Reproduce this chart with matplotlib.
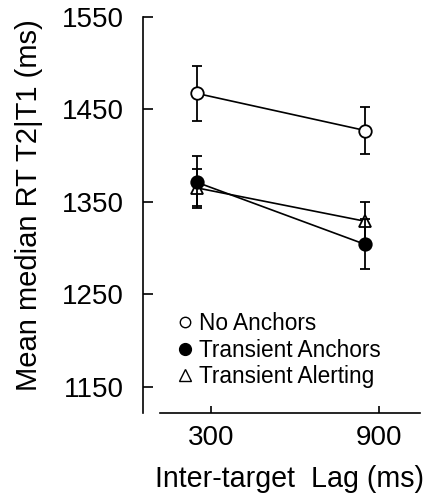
""" Mean median RT T2|T1 por lag e condição """

import numpy as np
import matplotlib.pyplot as plt
import matplotlib.transforms as mtransforms
from matplotlib.lines import Line2D

plt.rcParams['font.family'] = ['Liberation Sans', 'DejaVu Sans']

# Dados
lags = [300, 900]
no_anchors = [1467, 1427]
no_anchors_err = [30, 25]
transient_anchors = [1371, 1304]
transient_anchors_err = [28, 27]
transient_alerting = [1365, 1329]
transient_alerting_err = [20, 21]
yticks = [1150, 1250, 1350, 1450, 1550]

fig = plt.figure(figsize=(4.27, 4.94), dpi=100)
ax = fig.add_axes([0.335, 0.164, 0.649, 0.808])

# pontos ficam um pouco à esquerda dos ticks no original
trans = mtransforms.offset_copy(ax.transData, fig=fig, x=-14, y=0, units='dots')

estilo = dict(color='black', lw=1.2, capsize=3.8, elinewidth=1.3, capthick=1.3,
              markersize=9, markeredgewidth=1.3, transform=trans)
ax.errorbar(lags, transient_alerting, yerr=transient_alerting_err, marker='^',
            mfc='white', mec='black', zorder=2, **estilo)
ax.errorbar(lags, transient_anchors, yerr=transient_anchors_err, marker='o',
            mfc='black', mec='black', zorder=3, **estilo)
ax.errorbar(lags, no_anchors, yerr=no_anchors_err, marker='o',
            mfc='white', mec='black', zorder=4, **estilo)

ax.set_xlim(57, 1046)
ax.set_ylim(1122, 1553)
ax.set_xticks(lags)
ax.set_yticks(yticks)

for lado in ['top', 'right']:
    ax.spines[lado].set_visible(False)
ax.spines['bottom'].set_bounds(118, 1046)
ax.spines['left'].set_bounds(1122, 1550)
ax.spines['bottom'].set_linewidth(1.2)
ax.spines['left'].set_linewidth(1.2)

ax.tick_params(axis='y', direction='in', length=7, width=1.2, pad=14, labelsize=20)
ax.tick_params(axis='x', direction='in', length=5, width=1.2, pad=9, labelsize=20)

ax.set_xlabel('Inter-target  Lag (ms)', fontsize=20.6, labelpad=9.5)
ax.xaxis.label.set_x(0.53)
ax.set_ylabel('Mean median RT T2|T1 (ms)', fontsize=21)
ax.yaxis.set_label_coords(-0.36, 0.52)

handles = [
    Line2D([], [], ls='none', marker='o', mfc='white', mec='black', ms=7.5, mew=1.0),
    Line2D([], [], ls='none', marker='o', mfc='black', mec='black', ms=8.5, mew=1.0),
    Line2D([], [], ls='none', marker='^', mfc='white', mec='black', ms=8.5, mew=1.0),
]
nomes = ['No Anchors', 'Transient Anchors', 'Transient Alerting']
fig.legend(handles, nomes, loc='upper left', bbox_to_anchor=(0.418, 0.368),
           frameon=False, fontsize=16.3, handlelength=0.6, handletextpad=0.3,
           labelspacing=0.15, borderpad=0, borderaxespad=0)

fig.savefig('out.png', dpi=100)
